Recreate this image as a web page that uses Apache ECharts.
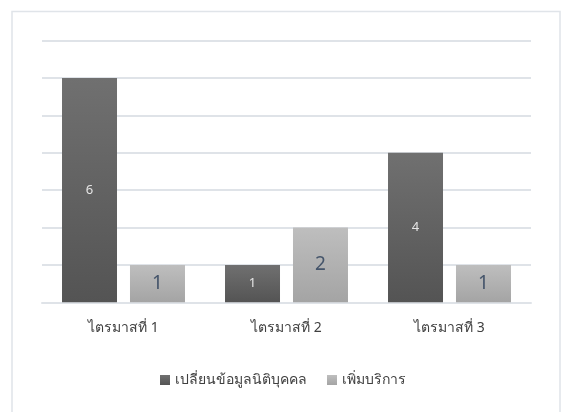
<!DOCTYPE html>
<html>
<head>
<meta charset="utf-8">
<script src="https://cdn.jsdelivr.net/npm/echarts@6/dist/echarts.min.js"></script>
<style>
html,body{margin:0;padding:0;background:#fff;}
#chart{width:566px;height:412px;}
</style>
</head>
<body>
<div id="chart"></div>
<script>
const categories = ['ไตรมาสที่ 1', 'ไตรมาสที่ 2', 'ไตรมาสที่ 3'];
const seriesNames = ['เปลี่ยนข้อมูลนิติบุคคล', 'เพิ่มบริการ'];
const changeData = [6, 1, 4];
const addServiceData = [1, 2, 1];

const chart = echarts.init(document.getElementById('chart'), null, {renderer: 'canvas'});
const font = 'Tahoma, "Noto Sans", "DejaVu Sans", sans-serif';
chart.setOption({
  animation: false,
  textStyle: {fontFamily: font},
  graphic: [{
    type: 'rect',
    shape: {x: 12, y: 11.5, width: 548, height: 420},
    style: {fill: 'none', stroke: '#e0e4e9', lineWidth: 1.5},
    silent: true
  }],
  grid: {left: 42, right: 35, top: 40.5, bottom: 109.7},
  legend: {
    bottom: 20,
    left: 'center',
    itemWidth: 10,
    itemHeight: 10,
    itemGap: 20,
    icon: 'rect',
    textStyle: {fontSize: 14, color: '#404040', fontFamily: font},
    data: seriesNames
  },
  xAxis: {
    type: 'category',
    data: categories,
    axisTick: {show: false},
    axisLine: {lineStyle: {color: '#dfe3e8', width: 2}},
    axisLabel: {fontSize: 14, color: '#404040', margin: 19, fontFamily: font}
  },
  yAxis: {
    type: 'value',
    min: 0, max: 7, interval: 1,
    axisLabel: {show: false},
    axisLine: {show: false},
    axisTick: {show: false},
    splitLine: {lineStyle: {color: '#dfe3e8', width: 2}}
  },
  series: [{
    name: seriesNames[0],
    type: 'bar',
    data: changeData,
    barWidth: 55,
    barGap: '23.6%',
    itemStyle: {color: new echarts.graphic.LinearGradient(0, 0, 0, 1, [{offset: 0, color: '#707070'}, {offset: 1, color: '#545454'}])},
    label: {show: true, position: 'inside', color: '#e6e6e6', fontSize: 13, fontFamily: font}
  }, {
    name: seriesNames[1],
    type: 'bar',
    data: addServiceData,
    barWidth: 55,
    itemStyle: {color: new echarts.graphic.LinearGradient(0, 0, 0, 1, [{offset: 0, color: '#bebebe'}, {offset: 1, color: '#a4a4a4'}])},
    label: {show: true, position: 'inside', color: '#44546a', fontSize: 19, fontFamily: font}
  }]
});
</script>
</body>
</html>
